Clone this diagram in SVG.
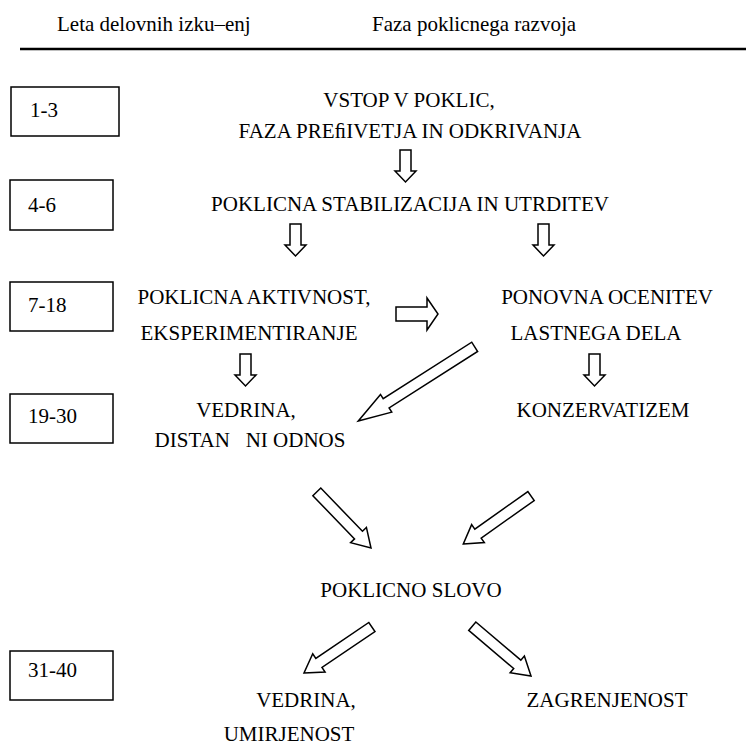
<svg xmlns="http://www.w3.org/2000/svg" width="746" height="746" viewBox="0 0 746 746" font-family="'Liberation Serif', 'Times New Roman', Tinos, serif" font-size="21">
<style>
text{font-family:'Liberation Serif','Times New Roman',Tinos,serif;font-size:21px;fill:#000}
.c{text-anchor:middle}
.box{fill:#fff;stroke:#000;stroke-width:1.5}
.arr{fill:#fff;stroke:#000;stroke-width:1.5;stroke-linejoin:miter}
</style>
<rect width="746" height="746" fill="#fff"/>
<g id="header">
<text x="57" y="31">Leta delovnih izku–enj</text>
<text x="372" y="31">Faza poklicnega razvoja</text>
<line x1="20" y1="49" x2="746" y2="49" stroke="#000" stroke-width="2.5"/>
</g>
<g id="y1"><rect class="box" x="11" y="87" width="108" height="49"/><text x="30" y="117">1-3</text></g>
<g id="y2"><rect class="box" x="10" y="180" width="103" height="50"/><text x="28" y="212">4-6</text></g>
<g id="y3"><rect class="box" x="10" y="282" width="103" height="49"/><text x="28" y="312">7-18</text></g>
<g id="y4"><rect class="box" x="10" y="394" width="103" height="49"/><text x="28" y="423">19-30</text></g>
<g id="y5"><rect class="box" x="10" y="651" width="103" height="49"/><text x="28" y="677">31-40</text></g>
<g id="n1"><text class="c" x="409" y="107">VSTOP V POKLIC,</text><text class="c" x="410" y="138">FAZA PREﬁIVETJA IN ODKRIVANJA</text></g>
<g id="n2"><text class="c" x="410" y="211">POKLICNA STABILIZACIJA IN UTRDITEV</text></g>
<g id="n3"><text class="c" x="254" y="304">POKLICNA AKTIVNOST,</text><text class="c" x="249" y="340">EKSPERIMENTIRANJE</text></g>
<g id="n4"><text class="c" x="607" y="304">PONOVNA OCENITEV</text><text class="c" x="596" y="340">LASTNEGA DELA</text></g>
<g id="n5"><text class="c" x="246" y="417">VEDRINA,</text><text class="c" x="250" y="447" xml:space="preserve">DISTAN   NI ODNOS</text></g>
<g id="n6"><text class="c" x="603" y="417">KONZERVATIZEM</text></g>
<g id="n7"><text class="c" x="411" y="597">POKLICNO SLOVO</text></g>
<g id="n8"><text class="c" x="306" y="707">VEDRINA,</text><text class="c" x="289" y="741">UMIRJENOST</text></g>
<g id="n9"><text class="c" x="607" y="707">ZAGRENJENOST</text></g>
<g id="connectors">
<polygon class="arr" points="400,150 411,150 411,171 416,171 405.5,182 395,171 400,171"/>
<polygon class="arr" points="290,224 301,224 301,245 306,245 295.5,256 285,245 290,245"/>
<polygon class="arr" points="538,224 549,224 549,245 554,245 543.5,256 533,245 538,245"/>
<polygon class="arr" points="240,354 251,354 251,375 256,375 245.5,386 235,375 240,375"/>
<polygon class="arr" points="589,354 600,354 600,375 605,375 594.5,386 584,375 589,375"/>
<polygon class="arr" points="396,307 427,307 427,298 438,314 427,330 427,321 396,321"/>
<path class="arr" d="M0,0 L-33,-10.5 L-33,-5.5 L-138,-5.5 L-138,5.5 L-33,5.5 L-33,10.5 Z" transform="translate(358.3,421) rotate(147.5)"/>
<path class="arr" d="M0,0 L-18,-11 L-18,-5.5 L-78,-5.5 L-78,5.5 L-18,5.5 L-18,11 Z" transform="translate(371,548) rotate(46)"/>
<path class="arr" d="M0,0 L-18,-11 L-18,-5.5 L-83,-5.5 L-83,5.5 L-18,5.5 L-18,11 Z" transform="translate(463.3,544) rotate(144.7)"/>
<path class="arr" d="M0,0 L-18,-11 L-18,-5.5 L-82,-5.5 L-82,5.5 L-18,5.5 L-18,11 Z" transform="translate(304,673) rotate(145.9)"/>
<path class="arr" d="M0,0 L-18,-11 L-18,-5.5 L-77,-5.5 L-77,5.5 L-18,5.5 L-18,11 Z" transform="translate(531,676) rotate(40.3)"/>
</g>
</svg>
